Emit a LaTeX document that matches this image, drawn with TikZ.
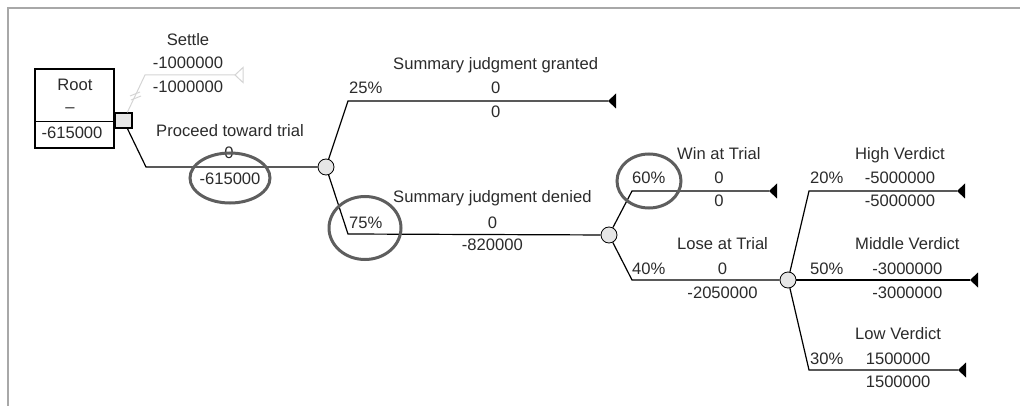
\documentclass[tikz,border=0pt]{standalone}
\usepackage{fontspec}
\setmainfont{Liberation Sans}
\usetikzlibrary{shapes.geometric}
\definecolor{frameg}{HTML}{A8A8A8}
\definecolor{nodeg}{HTML}{E6E6E6}
\definecolor{txt}{HTML}{2B2B2B}
\definecolor{ringc}{HTML}{5E5E5E}
\definecolor{settleg}{HTML}{D4D4D4}
\begin{document}
\begin{tikzpicture}[x=1pt,y=-1pt,
  every node/.style={font=\fontsize{16.6}{20}\selectfont, text=txt, inner sep=0pt},
  lbl/.style={anchor=base},
  lblw/.style={anchor=base west},
  branch/.style={draw=black, line width=1.2pt},
  chance/.style={circle, draw=black, fill=nodeg, minimum size=16pt, line width=0.8pt},
  decision/.style={rectangle, draw=black, fill=nodeg, minimum width=17pt, minimum height=15pt, line width=1.2pt},
  ringmark/.style={ellipse, draw=ringc, line width=3pt},
  termfill/.style={fill=black}
]
\useasboundingbox (0,0) rectangle (1020,406);
% frame
\draw[frameg, line width=2pt] (7.7,406) -- (7.7,7.7) -- (1020,7.7);

% root box
\node[draw=black, line width=1.5pt, minimum width=79pt, minimum height=79pt] (root) at (74.5,108.5) {};
\coordinate (dl) at (35,121.5);
\coordinate (dr) at (114,121.5);
\draw[line width=1.8pt] (dl) -- (dr);
\node[lbl] (rootname) at (75,91) {Root};
\node[lbl] (rootdash) at (70,113) {–};
\node[lbl] (rootval) at (72,139) {-615000};

% decision node
\node[decision] (d) at (123.5,120.5) {};

% settle branch (greyed)
\coordinate (ks) at (145,75);
\coordinate (ts) at (235,75);
\draw[settleg, line width=1pt] (d) -- (ks) -- (ts);
\draw[settleg, line width=1pt] (ts) -- ++(8,-7.5) -- ++(0,15) -- cycle;
\coordinate (tk1a) at (130,96);
\coordinate (tk1b) at (140,92);
\coordinate (tk2a) at (131,100);
\coordinate (tk2b) at (141,96);
\draw[settleg, line width=1pt] (tk1a) -- (tk1b);
\draw[settleg, line width=1pt] (tk2a) -- (tk2b);
\node[lbl] (settlename) at (188,46) {Settle};
\node[lbl] (settlev1) at (188,69) {-1000000};
\node[lbl] (settlev2) at (188,93) {-1000000};

% proceed branch
\node[chance] (c1) at (326,167) {};
\coordinate (kp) at (146,167);
\draw[branch] (d) -- (kp) -- (c1);
\node[lbl] (procname) at (230,137) {Proceed toward trial};
\node[lbl] (procv1) at (229,159) {0};
\node[lbl] (procv2) at (230,185) {-615000};

% summary judgment granted
\coordinate (kg) at (348,101);
\coordinate (tg) at (608,101);
\draw[branch] (c1) -- (kg) -- (tg);
\fill[termfill] (tg) -- ++(8,-7.5) -- ++(0,15) -- cycle;
\node[lblw] (gp) at (349,94) {25\%};
\node[lblw] (gname) at (393,70) {Summary judgment granted};
\node[lbl] (gv1) at ([yshift=-24pt]gname.base) {0};
\node[lbl] (gv2) at ([yshift=-48pt]gname.base) {0};

% summary judgment denied
\node[chance] (c2) at (609,235) {};
\coordinate (kd) at (348,234);
\draw[branch] (c1) -- (kd) -- (c2);
\node[lblw] (dp) at (349,229) {75\%};
\node[lblw] (dname) at (393,203) {Summary judgment denied};
\node[lbl] (dv1) at ([yshift=-26pt]dname.base) {0};
\node[lbl] (dv2) at ([yshift=-48pt]dname.base) {-820000};

% win at trial
\coordinate (kw) at (632,191);
\coordinate (tw) at (769,191);
\draw[branch] (c2) -- (kw) -- (tw);
\fill[termfill] (tw) -- ++(8,-7.5) -- ++(0,15) -- cycle;
\node[lblw] (wp) at (632,184) {60\%};
\node[lblw] (wname) at (677,160) {Win at Trial};
\node[lbl] (wv1) at ([yshift=-24pt]wname.base) {0};
\node[lbl] (wv2) at ([yshift=-47pt]wname.base) {0};

% lose at trial
\node[chance] (c3) at (788,280) {};
\coordinate (kl) at (632,280);
\draw[branch] (c2) -- (kl) -- (c3);
\node[lblw] (lp) at (632,274) {40\%};
\node[lblw] (lname) at (677,250) {Lose at Trial};
\node[lbl] (lv1) at ([yshift=-24pt]lname.base) {0};
\node[lbl] (lv2) at ([yshift=-48pt]lname.base) {-2050000};

% high verdict
\coordinate (kh) at (809,191);
\coordinate (th) at (957,191);
\draw[branch] (c3) -- (kh) -- (th);
\fill[termfill] (th) -- ++(8,-7.5) -- ++(0,15) -- cycle;
\node[lblw] (hp) at (810,184) {20\%};
\node[lblw] (hname) at (855,160) {High Verdict};
\node[lbl] (hv1) at ([yshift=-24pt]hname.base) {-5000000};
\node[lbl] (hv2) at ([yshift=-47pt]hname.base) {-5000000};

% middle verdict
\coordinate (tm) at (970,280);
\draw[branch] (c3) -- (tm);
\fill[termfill] (tm) -- ++(8,-7.5) -- ++(0,15) -- cycle;
\node[lblw] (mp) at (810,274) {50\%};
\node[lblw] (mname) at (855,250) {Middle Verdict};
\node[lbl] (mv1) at ([yshift=-24pt]mname.base) {-3000000};
\node[lbl] (mv2) at ([yshift=-48pt]mname.base) {-3000000};

% low verdict
\coordinate (klo) at (809,370);
\coordinate (tlo) at (958,370);
\draw[branch] (c3) -- (klo) -- (tlo);
\fill[termfill] (tlo) -- ++(8,-7.5) -- ++(0,15) -- cycle;
\node[lblw] (lop) at (810,364) {30\%};
\node[lblw] (loname) at (855,339) {Low Verdict};
\node[lbl] (lov1) at ([yshift=-25pt]loname.base) {1500000};
\node[lbl] (lov2) at ([yshift=-48pt]loname.base) {1500000};

% highlight rings
\node[ringmark, minimum width=80pt, minimum height=50pt] (e1) at (230,178) {};
\node[ringmark, minimum width=72pt, minimum height=63pt] (e2) at (365,228) {};
\node[ringmark, minimum width=64pt, minimum height=54pt] (e3) at (649,181) {};
\end{tikzpicture}
\end{document}
